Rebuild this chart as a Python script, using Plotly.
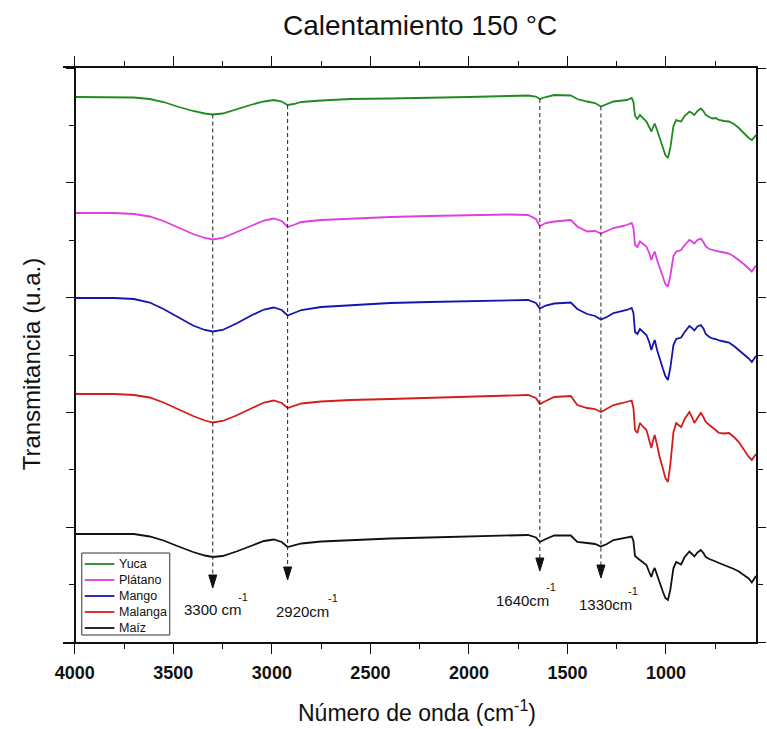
import plotly.graph_objects as go

# ---------------- data ----------------
wavenumber = [4000, 3800, 3700, 3620, 3550, 3480, 3400, 3340, 3300, 3250, 3180, 3100, 3040, 2990,
              2950, 2920, 2890, 2850, 2750, 2600, 2400, 2200, 2000, 1800, 1700, 1660, 1640, 1610,
              1567, 1483, 1450, 1400, 1360, 1330, 1300, 1266, 1220, 1199, 1174, 1165, 1157, 1145,
              1132, 1115, 1099, 1085, 1074, 1065, 1057, 1045, 1032, 1015, 1003, 990, 978, 962,
              948, 936, 923, 905, 881, 868, 856, 840, 823, 810, 798, 780, 764, 748, 731, 705,
              680, 655, 630, 605, 580, 564, 547, 543]

yuca = [545, 545, 544.5, 543, 540, 535.5, 531, 528.5, 527.5, 528.5, 533, 537.5, 540.5, 542,
        540.5, 537, 538, 540, 541.5, 543, 543.5, 544, 545, 546, 546.5, 545.5, 543, 545,
        547, 546.5, 543, 540.5, 539, 535.5, 538, 540.5, 541.5, 542, 544, 540, 526, 523,
        527, 524, 520.5, 515, 510.5, 515, 518.5, 512, 504, 494, 487, 484, 494, 516,
        522, 521, 520.5, 526, 530.5, 529, 527, 531, 533.5, 531, 527, 525, 523.5, 524, 522, 521,
        520.5, 518, 514, 509, 504, 502, 507, 507]

platano = [429, 429, 428, 425.5, 421, 415, 408, 404, 402.5, 404, 409.5, 416.5, 421.5, 423.5,
           421, 415, 417, 420, 422, 423.5, 425, 426, 427, 427.5, 427, 423, 416, 419,
           420.5, 422, 415.5, 410.5, 411, 408.5, 411, 414, 416, 417, 419, 414, 397, 395,
           400.5, 398, 395.5, 389, 382, 387, 390.5, 382, 374, 365, 358, 355.5, 366, 386,
           390.5, 391, 392, 397, 402, 400.5, 398.5, 402, 403.5, 400, 395.5, 393, 392, 391.5, 390.5, 389.5,
           388.5, 385.5, 382, 378, 373.5, 370.5, 375.5, 376]

mango = [344, 344, 343, 339.5, 333, 325, 316.5, 312, 310.5, 312, 318.5, 327, 332.5, 334.5,
         332, 326.5, 329, 332, 335, 337, 339, 340, 341, 342, 342, 339, 333.5, 336.5,
         338.5, 339.5, 333, 328, 326, 322.5, 325, 329, 331, 332, 334, 329, 310, 308,
         313, 310, 307, 300, 292, 298, 302, 292, 283, 273, 266, 262, 274, 297,
         303, 304, 304.5, 310, 316, 314, 311.5, 315.5, 317, 313.5, 308, 305, 303.5, 303, 301.5, 300.5,
         299.5, 296, 292, 288, 283.5, 280, 285.5, 286]

malanga = [248, 248, 247, 244.5, 239.5, 233, 226, 221.5, 219.5, 221, 226.5, 234, 239.5, 241.5,
           239, 234, 236, 238.5, 240.5, 242, 243, 244, 245.5, 246.5, 247, 244, 238, 241,
           245, 246, 237, 234, 233, 230, 233, 237, 239, 240, 241.5, 234, 212, 209,
           219, 215, 212, 202, 194, 202, 207, 197, 185, 173, 164, 160, 177, 210,
           219, 217, 215, 223, 230, 225, 219, 224, 229, 225, 220, 217, 214, 212, 209, 208.5,
           209, 205, 200, 193, 185, 182, 187, 188]

maiz = [108, 108, 108, 105.5, 101.5, 96, 90, 86.5, 85, 86, 90.5, 96.5, 101, 102.5,
        100, 95, 96.5, 98.5, 100.5, 102, 103.5, 104.5, 105.5, 106.5, 107, 104.5, 100, 103,
        106.5, 106.5, 100, 99, 98, 95.5, 98, 102, 103.5, 104, 105.5, 101, 86, 84,
        82, 80, 77, 70, 65, 71, 74, 67, 59, 50, 44, 42, 52, 74,
        80, 79, 77.5, 85, 90.5, 88, 85.5, 89.5, 92, 89, 85, 83, 82, 80.5, 79, 77,
        75.5, 73, 70.5, 67, 63.5, 59.5, 65, 66]

series_names = ["Yuca", "Plátano", "Mango", "Malanga", "Maíz"]
series_values = [yuca, platano, mango, malanga, maiz]

band_positions = [3300, 2920, 1640, 1330]
band_labels = ["3300 cm", "2920cm", "1640cm", "1330cm"]

x_tick_values = [4000, 3500, 3000, 2500, 2000, 1500, 1000]

# ---------------- styling ----------------
colors = ["#218A21", "#E03CE0", "#1414B0", "#D41C1C", "#111111"]
FONT = "Liberation Sans, Arial, sans-serif"
X_RANGE = [4060, 543]
Y_RANGE = [0, 574]
PLOT_W, PLOT_H = 701, 574

fig = go.Figure()
for name, vals, col in zip(series_names, series_values, colors):
    fig.add_trace(go.Scatter(x=wavenumber, y=vals, mode="lines", name=name,
                             line=dict(color=col, width=1.8), showlegend=False))

# right-side y axis carrier
fig.add_trace(go.Scatter(x=[None], y=[None], yaxis="y2", showlegend=False, hoverinfo="skip"))

# band markers: dashed guide from the top spectrum down to an arrowhead
head_tops = [67, 75, 84, 77]
label_pos = [(3458, 33), (2987, 31), (1873, 42), (1451, 38)]
sup_pos = [(3147, 45), (2690, 44), (1582, 55), (1165, 51)]
shapes = []
annotations = []
for b, top, lab, (lx, ly), (sx, sy) in zip(band_positions, head_tops, band_labels, label_pos, sup_pos):
    ytop = yuca[wavenumber.index(b)]
    shapes.append(dict(type="line", xref="x", yref="y", x0=b, x1=b, y0=ytop, y1=top,
                       line=dict(color="#222", width=1, dash="4px,3px"), layer="above"))
    shapes.append(dict(type="path", xref="x", yref="y", xsizemode="pixel", ysizemode="pixel",
                       xanchor=b, yanchor=top, path="M-4,0 L4,0 L0,-13 Z",
                       fillcolor="#111", line=dict(color="#111", width=1)))
    annotations.append(dict(x=lx, y=ly, xref="x", yref="y", xanchor="left", yanchor="middle",
                            text=lab, showarrow=False,
                            font=dict(family=FONT, size=15, color="#111")))
    annotations.append(dict(x=sx, y=sy, xref="x", yref="y", xanchor="center", yanchor="middle",
                            text="-1", showarrow=False,
                            font=dict(family=FONT, size=11, color="#111")))

# legend (drawn in the plot, Origin style)
leg_x0, leg_x1 = (82 - 63) / PLOT_W, (171 - 63) / PLOT_W
leg_y0, leg_y1 = (642 - 635) / PLOT_H, (642 - 553) / PLOT_H
shapes.append(dict(type="rect", xref="paper", yref="paper", x0=leg_x0, x1=leg_x1, y0=leg_y0, y1=leg_y1,
                   line=dict(color="#333", width=1), fillcolor="white", layer="above"))
entry_px = [564, 580, 596, 612, 628]
for name, col, py in zip(series_names, colors, entry_px):
    yy = (642 - py) / PLOT_H
    shapes.append(dict(type="line", xref="paper", yref="paper",
                       x0=(85 - 63) / PLOT_W, x1=(115 - 63) / PLOT_W, y0=yy, y1=yy,
                       line=dict(color=col, width=1.8), layer="above"))
    annotations.append(dict(text=name, xref="paper", yref="paper", x=(118 - 63) / PLOT_W, y=yy,
                            xanchor="left", yanchor="middle", showarrow=False,
                            font=dict(family=FONT, size=12.5, color="#111")))

annotations.append(dict(text="Calentamiento 150 °C", xref="paper", yref="paper",
                        x=(424 - 63) / PLOT_W, y=(642 - 25) / PLOT_H, xanchor="center", yanchor="middle",
                        showarrow=False, font=dict(family=FONT, size=28, color="#111")))
annotations.append(dict(text="Número de onda (cm<sup>-1</sup>)", xref="paper", yref="paper",
                        x=(421 - 63) / PLOT_W, y=(642 - 711) / PLOT_H, xanchor="center", yanchor="middle",
                        showarrow=False, font=dict(family=FONT, size=23, color="#111")))
annotations.append(dict(text="Transmitancia (u.a.)", xref="paper", yref="paper",
                        x=(31 - 63) / PLOT_W, y=(642 - 364) / PLOT_H, xanchor="center", yanchor="middle",
                        showarrow=False, textangle=-90, font=dict(family=FONT, size=24, color="#111")))

yaxis_common = dict(range=Y_RANGE, showgrid=False, zeroline=False, showticklabels=False,
                    showline=True, linecolor="#111", linewidth=1.6,
                    ticks="outside", ticklen=8, tickwidth=1.4, tickcolor="#111",
                    tick0=0, dtick=114.8,
                    minor=dict(ticks="outside", ticklen=5, tickwidth=1.4, tickcolor="#111",
                               dtick=57.4, tick0=0, showgrid=False))

fig.update_layout(
    width=767, height=729,
    margin=dict(l=63, r=3, t=68, b=87),
    paper_bgcolor="white", plot_bgcolor="white",
    font=dict(family=FONT, color="#111"),
    xaxis=dict(range=X_RANGE, showgrid=False, zeroline=False,
               showline=True, linecolor="#111", linewidth=1.6, mirror="ticks",
               ticks="outside", ticklen=10, tickwidth=1.4, tickcolor="#111",
               tickvals=x_tick_values, ticklabelstandoff=4,
               tickfont=dict(family=FONT, size=18, color="#111", weight="bold"),
               minor=dict(ticks="outside", ticklen=5, tickwidth=1.4, tickcolor="#111",
                          dtick=250, tick0=0, showgrid=False)),
    yaxis=dict(anchor="free", position=(75 - 63) / PLOT_W, **yaxis_common),
    yaxis2=dict(overlaying="y", side="right", anchor="x", **yaxis_common),
    shapes=shapes, annotations=annotations,
    showlegend=False,
)

fig.write_html("out.html")
